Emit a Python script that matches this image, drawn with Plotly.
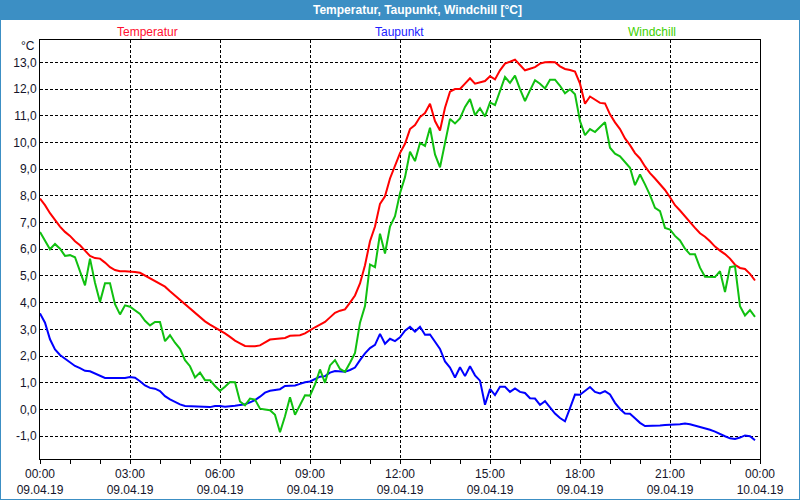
import pandas as pd
import plotly.graph_objects as go

# ---- data (10-minute readings, 09.04.19 00:00 .. 23:50) ----
start_time = "2019-04-09 00:00"
n_points = 144
times = pd.date_range(start_time, periods=n_points, freq="10min")

temperatur = [
    7.9, 7.65, 7.35, 7.1, 6.85, 6.65, 6.5, 6.3, 6.15, 5.95, 5.75, 5.67,
    5.65, 5.5, 5.33, 5.22, 5.18, 5.18, 5.17, 5.15, 5.12, 5.02, 4.9, 4.8,
    4.72, 4.6, 4.43, 4.27, 4.12, 3.95, 3.78, 3.64, 3.48, 3.3, 3.18, 3.08,
    2.97, 2.85, 2.72, 2.58, 2.48, 2.38, 2.37, 2.37, 2.4, 2.52, 2.62, 2.64,
    2.66, 2.68, 2.76, 2.78, 2.78, 2.85, 2.98, 3.08, 3.18, 3.28, 3.45, 3.62,
    3.7, 3.75, 4.0, 4.27, 4.72, 5.4, 6.3, 6.85, 7.7, 7.98, 8.65, 9.15,
    9.6, 9.95, 10.5, 10.65, 10.95, 11.1, 11.45, 10.8, 10.45, 11.3, 11.9, 12.0,
    12.0, 12.2, 12.4, 12.2, 12.25, 12.3, 12.48, 12.36, 12.7, 12.95, 13.02, 13.1,
    12.9, 12.7, 12.76, 12.82, 12.95, 13.0, 13.01, 13.0, 12.85, 12.75, 12.71, 12.65,
    12.2, 11.45, 11.72, 11.6, 11.48, 11.46, 11.05, 10.75, 10.5, 10.15, 9.9, 9.6,
    9.4, 9.1, 8.85, 8.65, 8.45, 8.22, 7.95, 7.65, 7.45, 7.22, 7.0, 6.8,
    6.6, 6.47, 6.3, 6.1, 5.95, 5.82, 5.65, 5.42, 5.3, 5.26, 5.08, 4.83,
]

taupunkt = [
    3.6, 3.25, 2.63, 2.25, 2.04, 1.9, 1.75, 1.63, 1.55, 1.45, 1.43, 1.35,
    1.25, 1.18, 1.18, 1.18, 1.18, 1.18, 1.22, 1.19, 1.06, 0.9, 0.81, 0.78,
    0.69, 0.5, 0.38, 0.28, 0.19, 0.13, 0.12, 0.11, 0.09, 0.08, 0.09, 0.13,
    0.13, 0.1, 0.11, 0.14, 0.17, 0.2, 0.27, 0.35, 0.48, 0.63, 0.7, 0.74,
    0.76, 0.88, 0.9, 0.9, 0.96, 1.02, 1.05, 1.14, 1.23, 1.25, 1.38, 1.44,
    1.42, 1.41, 1.48, 1.57, 1.85, 2.1, 2.3, 2.42, 2.83, 2.46, 2.65, 2.56,
    2.7, 2.95, 3.1, 2.92, 3.1, 2.8, 2.81, 2.56, 2.27, 1.8, 1.57, 1.2,
    1.58, 1.25, 1.62, 1.28, 1.08, 0.18, 0.77, 0.54, 0.85, 0.85, 0.66, 0.79,
    0.66, 0.62, 0.42, 0.41, 0.17, 0.31, 0.06, -0.15, -0.32, -0.44, 0.05, 0.56,
    0.55, 0.7, 0.84, 0.66, 0.6, 0.69, 0.56, 0.25, 0.02, -0.15, -0.16, -0.33,
    -0.5, -0.62, -0.62, -0.62, -0.6, -0.58, -0.56, -0.56, -0.55, -0.52, -0.55, -0.6,
    -0.65, -0.7, -0.76, -0.83, -0.9, -1.0, -1.08, -1.1, -1.05, -0.97, -1.0, -1.15,
]

windchill = [
    6.65, 6.35, 6.0, 6.2, 6.02, 5.75, 5.78, 5.7, 5.2, 4.65, 5.65, 4.75,
    4.03, 4.73, 4.73, 3.94, 3.56, 3.9, 3.85, 3.72, 3.58, 3.32, 3.15, 3.28,
    3.28, 2.56, 2.78, 2.5, 2.27, 1.85, 1.62, 1.2, 1.38, 1.1, 1.1, 0.88,
    0.7, 0.85, 1.03, 1.02, 0.3, 0.16, 0.41, 0.37, 0.03, 0.0, -0.03, -0.2,
    -0.85, -0.25, 0.46, -0.2, 0.18, 0.53, 0.52, 0.94, 1.5, 1.0, 1.65, 1.85,
    1.52, 1.41, 1.75, 2.12, 3.25, 3.87, 5.43, 5.33, 6.58, 5.84, 6.85, 7.24,
    8.1, 8.7, 9.65, 9.3, 9.98, 9.87, 10.55, 9.55, 9.07, 10.0, 10.88, 10.71,
    10.9, 11.33, 11.62, 11.02, 11.28, 10.97, 11.5, 11.4, 11.95, 12.45, 12.23, 12.5,
    12.0, 11.55, 11.95, 12.33, 12.2, 12.02, 12.35, 12.35, 12.12, 11.84, 11.99, 11.8,
    10.8, 10.27, 10.5, 10.39, 10.58, 10.76, 9.8, 9.58, 9.48, 9.25, 9.05, 8.4,
    8.8, 8.43, 8.03, 7.55, 7.43, 6.8, 6.74, 6.5, 6.33, 6.02, 5.81, 5.81,
    5.31, 4.97, 4.96, 4.96, 5.18, 4.4, 5.33, 5.37, 3.87, 3.52, 3.72, 3.47,
]

x_tick_times = ["2019-04-09 00:00", "2019-04-09 03:00", "2019-04-09 06:00",
                "2019-04-09 09:00", "2019-04-09 12:00", "2019-04-09 15:00",
                "2019-04-09 18:00", "2019-04-09 21:00", "2019-04-10 00:00"]
x_tick_labels = ["00:00<br>09.04.19", "03:00<br>09.04.19", "06:00<br>09.04.19",
                 "09:00<br>09.04.19", "12:00<br>09.04.19", "15:00<br>09.04.19",
                 "18:00<br>09.04.19", "21:00<br>09.04.19", "00:00<br>10.04.19"]
y_tick_vals = [-1, 0, 1, 2, 3, 4, 5, 6, 7, 8, 9, 10, 11, 12, 13]
y_tick_labels = ["-1,0", "0,0", "1,0", "2,0", "3,0", "4,0", "5,0", "6,0",
                 "7,0", "8,0", "9,0", "10,0", "11,0", "12,0", "13,0"]

series_names = ["Temperatur", "Taupunkt", "Windchill"]
series_colors = ["#ff0000", "#0000ff", "#10c010"]
legend_colors = ["#ff1030", "#2020ff", "#40d000"]

title_text = "Temperatur, Taupunkt, Windchill [°C]"

# ---- layout helpers (pixel -> paper) ----
W, H = 800, 500
L, R, T, B = 40, 40, 40, 41
PW, PH = W - L - R, H - T - B


def fx(px):
    return (px - L) / PW


def fy(py):
    return (H - B - py) / PH


FONT = "Liberation Sans"
TXT = "#14142a"
BAR = "#3c8fc4"

fig = go.Figure()
for name, vals, col in zip(series_names, [temperatur, taupunkt, windchill], series_colors):
    fig.add_trace(go.Scatter(x=times, y=vals, mode="lines", name=name,
                             line=dict(color=col, width=2), showlegend=False))

fig.update_layout(
    width=W, height=H,
    margin=dict(l=L, r=R, t=T, b=B, autoexpand=False),
    paper_bgcolor="white", plot_bgcolor="white",
    font=dict(family=FONT, size=11, color=TXT),
    xaxis=dict(
        type="date", automargin=False,
        range=["2019-04-09 00:00", "2019-04-10 00:00"],
        tickmode="array", tickvals=x_tick_times, ticktext=x_tick_labels,
        ticks="outside", ticklen=4, tickcolor="black", tickwidth=1,
        showline=True, linecolor="black", linewidth=1, mirror=True,
        showgrid=True, gridcolor="black", gridwidth=1, griddash="3px,2px",
        minor=dict(dtick=3600000, ticks="outside", ticklen=4, tickcolor="black",
                   showgrid=False),
        zeroline=False,
        tickfont=dict(family=FONT, size=12, color=TXT),
    ),
    yaxis=dict(
        automargin=False,
        range=[-1.853, 13.835],
        tickmode="array", tickvals=y_tick_vals, ticktext=y_tick_labels,
        ticks="", showline=True, linecolor="black", linewidth=1, mirror=True,
        showgrid=True, gridcolor="black", gridwidth=1, griddash="3px,2px",
        zeroline=False,
        tickfont=dict(family=FONT, size=12, color=TXT),
    ),
    shapes=[
        dict(type="rect", xref="paper", yref="paper",
             x0=fx(0), x1=fx(800), y0=fy(20), y1=fy(0),
             fillcolor=BAR, line=dict(width=0), layer="below"),
        dict(type="rect", xref="paper", yref="paper",
             x0=fx(0), x1=fx(800), y0=fy(500), y1=fy(0),
             line=dict(color=BAR, width=2), fillcolor="rgba(0,0,0,0)"),
    ],
)

annotations = [
    dict(text="<b>" + title_text + "</b>", x=fx(417), y=fy(10), xanchor="center",
         yanchor="middle", font=dict(family=FONT, size=12, color="white")),
    dict(text="°C", x=fx(37), y=fy(46), xanchor="right", yanchor="middle",
         font=dict(family=FONT, size=12, color=TXT)),
]
for name, cx, col in zip(series_names, [147, 399.5, 652], legend_colors):
    annotations.append(dict(text=name, x=fx(cx), y=fy(32), xanchor="center",
                            yanchor="middle", font=dict(family=FONT, size=12, color=col)))
for a in annotations:
    a.update(xref="paper", yref="paper", showarrow=False)
fig.update_layout(annotations=annotations)

fig.write_html("out.html", config={"displayModeBar": False},
               post_script="document.body.style.margin='0';")
